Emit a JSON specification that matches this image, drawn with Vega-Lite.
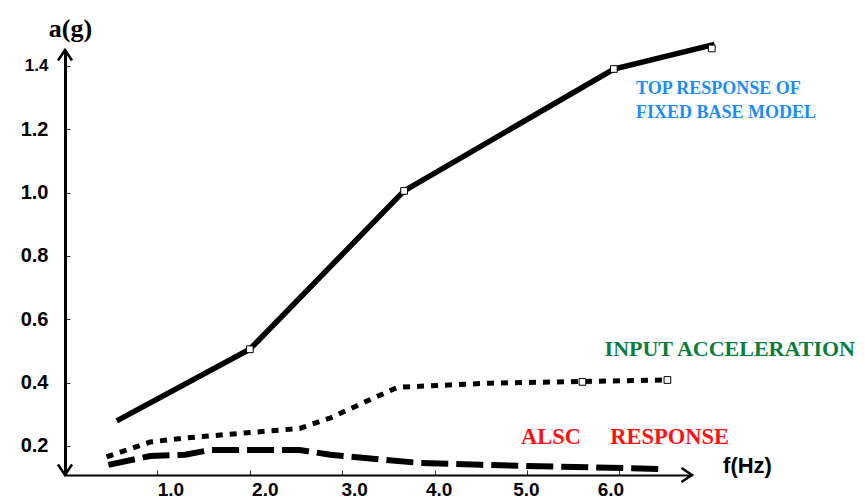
{
  "$schema": "https://vega.github.io/schema/vega-lite/v6.json",
  "autosize": "none",
  "width": 627,
  "height": 425,
  "padding": {"left": 65, "top": 50, "right": 173, "bottom": 25},
  "background": "white",
  "config": {"view": {"stroke": null}},
  "datasets": {
    "curves": [
      {"series": "top", "f": 0.56, "a": 0.279, "k": 1},
      {"series": "top", "f": 2.0, "a": 0.505, "k": 2},
      {"series": "top", "f": 3.67, "a": 1.005, "k": 3},
      {"series": "top", "f": 5.94, "a": 1.39, "k": 4},
      {"series": "top", "f": 7.03, "a": 1.468, "k": 5},
      {"series": "input", "f": 0.45, "a": 0.165, "k": 1},
      {"series": "input", "f": 0.92, "a": 0.212, "k": 2},
      {"series": "input", "f": 1.3, "a": 0.225, "k": 3},
      {"series": "input", "f": 2.54, "a": 0.255, "k": 4},
      {"series": "input", "f": 2.87, "a": 0.288, "k": 5},
      {"series": "input", "f": 3.25, "a": 0.339, "k": 6},
      {"series": "input", "f": 3.6, "a": 0.385, "k": 7},
      {"series": "input", "f": 4.6, "a": 0.398, "k": 8},
      {"series": "input", "f": 6.52, "a": 0.408, "k": 9},
      {"series": "alsc", "f": 0.47, "a": 0.14, "k": 1},
      {"series": "alsc", "f": 0.92, "a": 0.168, "k": 2},
      {"series": "alsc", "f": 1.3, "a": 0.172, "k": 3},
      {"series": "alsc", "f": 1.57, "a": 0.187, "k": 4},
      {"series": "alsc", "f": 2.54, "a": 0.187, "k": 5},
      {"series": "alsc", "f": 2.87, "a": 0.172, "k": 6},
      {"series": "alsc", "f": 3.84, "a": 0.146, "k": 7},
      {"series": "alsc", "f": 4.5, "a": 0.14, "k": 8},
      {"series": "alsc", "f": 6.47, "a": 0.127, "k": 9}
    ],
    "markers": [
      {"f": 2.0, "a": 0.505},
      {"f": 3.67, "a": 1.005},
      {"f": 5.94, "a": 1.39},
      {"f": 7.0, "a": 1.455},
      {"f": 5.6, "a": 0.402},
      {"f": 6.52, "a": 0.408}
    ],
    "arrows": [
      {"f": 0, "a": 1.45, "dir": "up"},
      {"f": 0, "a": 0.108, "dir": "down"},
      {"f": 6.786, "a": 0.108, "dir": "right"}
    ],
    "labels": [
      {"f": 6.18, "a": 1.327, "text": "TOP RESPONSE OF", "grp": "blue"},
      {"f": 6.18, "a": 1.251, "text": "FIXED BASE MODEL", "grp": "blue"},
      {"f": 5.84, "a": 0.506, "text": "INPUT ACCELERATION", "grp": "green"},
      {"f": 4.935, "a": 0.228, "text": "ALSC", "grp": "red"},
      {"f": 5.9, "a": 0.228, "text": "RESPONSE", "grp": "red"}
    ]
  },
  "encoding": {
    "x": {"field": "f", "type": "quantitative", "scale": {"domain": [0, 6.786], "nice": false, "zero": false}},
    "y": {"field": "a", "type": "quantitative", "scale": {"domain": [0.108, 1.45], "nice": false, "zero": false}}
  },
  "layer": [
    {
      "data": {"name": "curves"},
      "transform": [{"filter": "datum.series == 'top'"}],
      "mark": {"type": "line", "color": "black", "strokeWidth": 5.5, "strokeCap": "butt"},
      "encoding": {
        "order": {"field": "k"},
        "x": {"field": "f", "type": "quantitative",
          "axis": {
            "orient": "bottom",
            "values": [1, 2, 3, 4, 5, 6],
            "format": ".1f",
            "grid": false,
            "domainColor": "black", "domainWidth": 2,
            "tickColor": "#333", "tickSize": -5, "tickWidth": 1,
            "labelFont": "Liberation Sans", "labelFontWeight": "bold", "labelFontSize": 19, "labelColor": "black",
            "labelPadding": 10,
            "labelOffset": {"condition": [
              {"test": "datum.value == 1", "value": 13},
              {"test": "datum.value == 2", "value": 15},
              {"test": "datum.value == 3", "value": 12},
              {"test": "datum.value == 4", "value": 4},
              {"test": "datum.value == 6", "value": -9}
            ], "value": -1},
            "title": "f(Hz)",
            "titleFont": "Liberation Sans", "titleFontWeight": "bold", "titleFontSize": 22, "titleColor": "black",
            "titleAnchor": null, "titleAlign": "center", "titleBaseline": "middle",
            "titleX": 682, "titleY": -10
          }},
        "y": {"field": "a", "type": "quantitative",
          "axis": {
            "orient": "left",
            "values": [0.2, 0.3, 0.4, 0.5, 0.6, 0.7, 0.8, 0.9, 1.0, 1.1, 1.2, 1.3, 1.4],
            "labelExpr": "round(datum.value*10) % 2 == 0 ? format(datum.value, '.1f') : ''",
            "grid": false,
            "domainColor": "black", "domainWidth": 3,
            "tickColor": "#333", "tickSize": -5, "tickWidth": 1,
            "labelFont": "Liberation Sans", "labelFontWeight": "bold", "labelColor": "black",
            "labelFontSize": {"condition": {"test": "datum.value > 1.35", "value": 17}, "value": 20},
            "labelPadding": 22,
            "title": "a(g)",
            "titleFont": "Liberation Serif", "titleFontWeight": "bold", "titleFontSize": 26, "titleColor": "black",
            "titleAngle": 0, "titleAnchor": null, "titleAlign": "center", "titleBaseline": "middle",
            "titleX": 5, "titleY": -22
          }}
      }
    },
    {
      "data": {"name": "curves"},
      "transform": [{"filter": "datum.series == 'input'"}],
      "mark": {"type": "line", "color": "black", "strokeWidth": 5, "strokeCap": "butt", "strokeDash": [7, 7]},
      "encoding": {"order": {"field": "k"}}
    },
    {
      "data": {"name": "curves"},
      "transform": [{"filter": "datum.series == 'alsc'"}],
      "mark": {"type": "line", "color": "black", "strokeWidth": 6, "strokeCap": "butt", "strokeDash": [27, 8]},
      "encoding": {"order": {"field": "k"}}
    },
    {
      "data": {"name": "markers"},
      "mark": {"type": "point", "shape": "square", "filled": true, "fill": "white", "stroke": "black", "strokeWidth": 1, "size": 45, "opacity": 1}
    },
    {
      "data": {"name": "arrows"},
      "mark": {"type": "point", "filled": false, "stroke": "black", "strokeWidth": 2.5, "opacity": 1, "size": 196},
      "encoding": {
        "shape": {"field": "dir", "type": "nominal", "legend": null,
          "scale": {"domain": ["up", "down", "right"],
            "range": ["M-1,1.5L0,0L1,1.5", "M-1,-1.5L0,0L1,-1.5", "M-1.5,-1L0,0L-1.5,1"]}}
      }
    },
    {
      "data": {"name": "labels"},
      "mark": {"type": "text", "align": "left", "baseline": "middle", "font": "Liberation Serif", "fontWeight": "bold"},
      "encoding": {
        "text": {"field": "text"},
        "size": {"field": "grp", "type": "nominal", "legend": null,
          "scale": {"type": "ordinal", "domain": ["blue", "green", "red"], "range": [18, 22, 22.5]}},
        "color": {"field": "grp", "type": "nominal", "legend": null,
          "scale": {"domain": ["blue", "green", "red"], "range": ["#1a8cff", "#0a7d3c", "#ff1010"]}}
      }
    }
  ]
}
